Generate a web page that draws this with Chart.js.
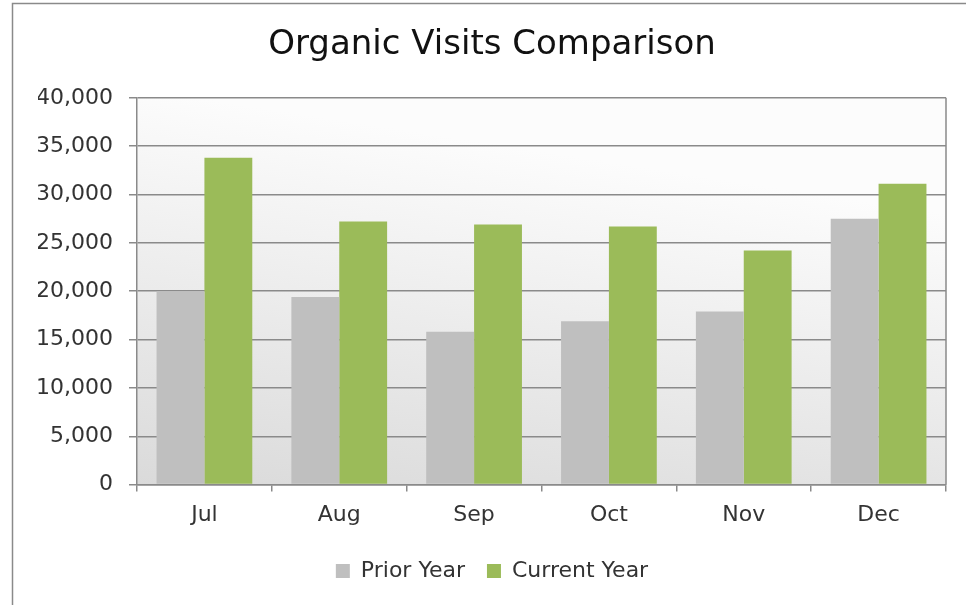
<html><head>
<meta charset="utf-8">
<title>Organic Visits Comparison</title>
<script src="https://cdn.jsdelivr.net/npm/chart.js"></script>
<style>
body { margin: 0; background: #fff; }
#wrap { width: 966px; height: 605px; position: relative; }
</style>
</head>
<body>
<div id="wrap"><canvas id="visits" width="966" height="605"></canvas></div>
<script>
var months = ['Jul', 'Aug', 'Sep', 'Oct', 'Nov', 'Dec'];
var priorYear = [20000, 19400, 15800, 16900, 17900, 27500];
var currentYear = [33800, 27200, 26900, 26700, 24200, 31100];
var yTicks = [0, 5000, 10000, 15000, 20000, 25000, 30000, 35000, 40000];

var FONT = '"DejaVu Sans", sans-serif';

// frame round the whole chart + gradient in the plot area
var frame = {
    id: 'frame',
    beforeDraw: function(chart) {
        var ctx = chart.ctx, a = chart.chartArea;
        ctx.save();
        ctx.strokeStyle = '#8a8a8a';
        ctx.lineWidth = 1.5;
        ctx.strokeRect(12.5, 3.5, 1000, 1000);
        var g = ctx.createLinearGradient(a.left + 60, a.top, a.left, a.bottom);
        g.addColorStop(0, '#fcfcfc');
        g.addColorStop(1, '#dadada');
        ctx.fillStyle = g;
        ctx.fillRect(a.left, a.top, a.right - a.left, a.bottom - a.top);
        ctx.restore();
    },
    afterDatasetsDraw: function(chart) {
        var ctx = chart.ctx, a = chart.chartArea;
        ctx.save();
        ctx.strokeStyle = '#8a8a8a';
        ctx.lineWidth = 1.5;
        ctx.beginPath();
        ctx.moveTo(a.right, a.top);
        ctx.lineTo(a.right, a.bottom);
        ctx.stroke();
        ctx.restore();
    }
};

new Chart(document.getElementById('visits'), {
    type: 'bar',
    data: {
        labels: months,
        datasets: [
            { label: 'Prior Year', data: priorYear, backgroundColor: '#bfbfbf' },
            { label: 'Current Year', data: currentYear, backgroundColor: '#9bbb59' }
        ]
    },
    options: {
        responsive: false,
        animation: false,
        categoryPercentage: 0.71,
        barPercentage: 1.0,
        layout: { padding: { left: 38, right: 20, top: 0, bottom: 13 } },
        plugins: {
            title: {
                display: true,
                text: 'Organic Visits Comparison',
                color: '#111',
                font: { family: FONT, size: 34, weight: 'normal' },
                padding: { top: 25, bottom: 32 }
            },
            legend: {
                position: 'bottom',
                labels: {
                    color: '#333',
                    font: { family: FONT, size: 22 },
                    boxWidth: 14,
                    boxHeight: 14,
                    padding: 22
                }
            },
            tooltip: { enabled: false }
        },
        scales: {
            x: {
                grid: { offset: true, drawOnChartArea: false, tickLength: 7, color: '#8a8a8a', lineWidth: 1.5 },
                border: { color: '#8a8a8a', width: 1.5 },
                ticks: { color: '#333', font: { family: FONT, size: 22 }, padding: 10 }
            },
            y: {
                min: 0,
                max: 40000,
                afterFit: function(s) { s.width = 99; },
                afterBuildTicks: function(s) { s.ticks = yTicks.map(function(v) { return { value: v }; }); },
                grid: { color: '#8a8a8a', lineWidth: 1.5, tickLength: 8 },
                border: { color: '#8a8a8a', width: 1.5 },
                ticks: {
                    color: '#333',
                    font: { family: FONT, size: 22 },
                    padding: 16,
                    callback: function(v) { return v.toLocaleString('en-US'); }
                }
            }
        }
    },
    plugins: [frame]
});
</script>
</body></html>
